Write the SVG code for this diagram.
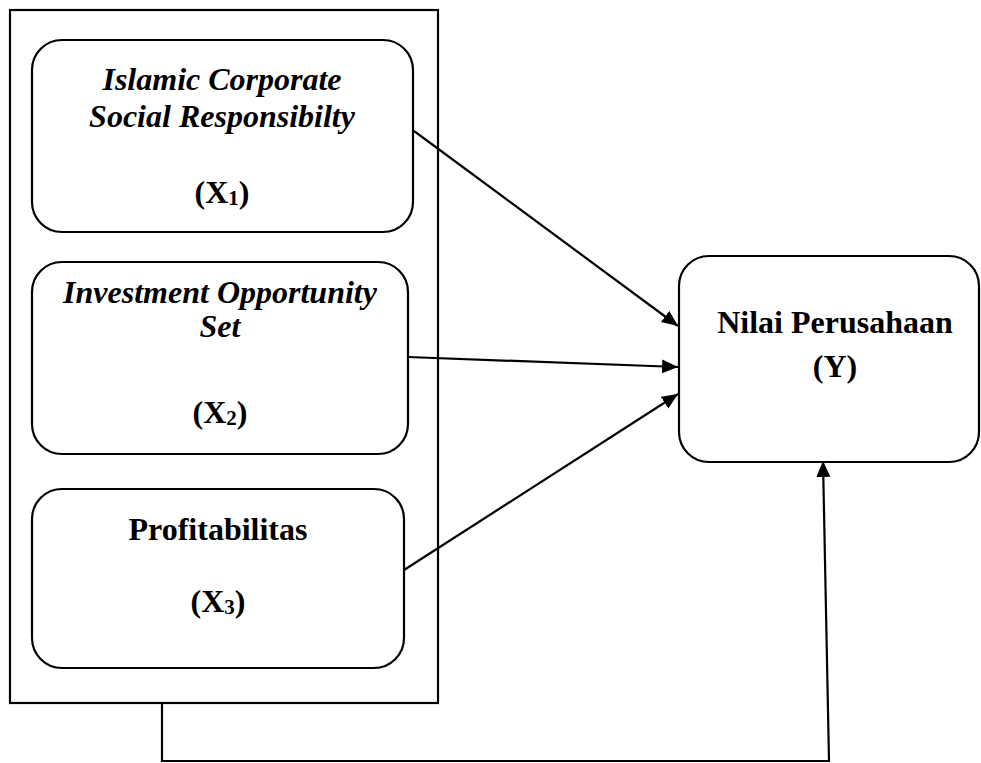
<svg xmlns="http://www.w3.org/2000/svg" width="981" height="763" viewBox="0 0 981 763">
<style>
.box{fill:#fff;stroke:#000;stroke-width:2.2}
.frame{fill:none;stroke:#000;stroke-width:2.2}
.t{font-family:"Liberation Serif","Times New Roman",serif;font-size:32px;font-weight:bold;fill:#000;text-anchor:middle}
.i{font-style:italic}
.sub{font-size:21px}
.c{fill:none;stroke:#000;stroke-width:2.2}
</style>
<defs>
<marker id="ah" markerUnits="userSpaceOnUse" markerWidth="18" markerHeight="16" refX="16" refY="7" orient="auto">
<path d="M0,0 L16,7 L0,14 Z" fill="#000"/>
</marker>
</defs>
<rect width="981" height="763" fill="#fff"/>
<g id="frame"><rect class="frame" x="10" y="10" width="428" height="693"/></g>
<g id="x1">
<rect class="box" x="32" y="40" width="381" height="192" rx="30"/>
<text class="t i" x="222" y="90">Islamic Corporate</text>
<text class="t i" x="222" y="127">Social Responsibilty</text>
<text class="t" x="222" y="203">(X<tspan class="sub" dy="2">1</tspan><tspan dy="-2">)</tspan></text>
</g>
<g id="x2">
<rect class="box" x="32" y="262" width="376" height="192" rx="30"/>
<text class="t i" x="220" y="303">Investment Opportunity</text>
<text class="t i" x="220" y="337">Set</text>
<text class="t" x="220" y="423">(X<tspan class="sub" dy="2">2</tspan><tspan dy="-2">)</tspan></text>
</g>
<g id="x3">
<rect class="box" x="32" y="489" width="372" height="179" rx="30"/>
<text class="t" x="218" y="540">Profitabilitas</text>
<text class="t" x="218" y="612">(X<tspan class="sub" dy="2">3</tspan><tspan dy="-2">)</tspan></text>
</g>
<g id="y">
<rect class="box" x="679" y="256" width="300" height="206" rx="30"/>
<text class="t" x="835" y="333">Nilai Perusahaan</text>
<text class="t" x="835" y="377">(Y)</text>
</g>
<g id="connectors">
<line class="c" x1="414" y1="131" x2="678" y2="326" marker-end="url(#ah)"/>
<line class="c" x1="408" y1="357" x2="678" y2="367" marker-end="url(#ah)"/>
<line class="c" x1="404" y1="570" x2="678" y2="394" marker-end="url(#ah)"/>
<polyline class="c" points="162,703 162,761 829,761 823,461" marker-end="url(#ah)"/>
</g>
</svg>
